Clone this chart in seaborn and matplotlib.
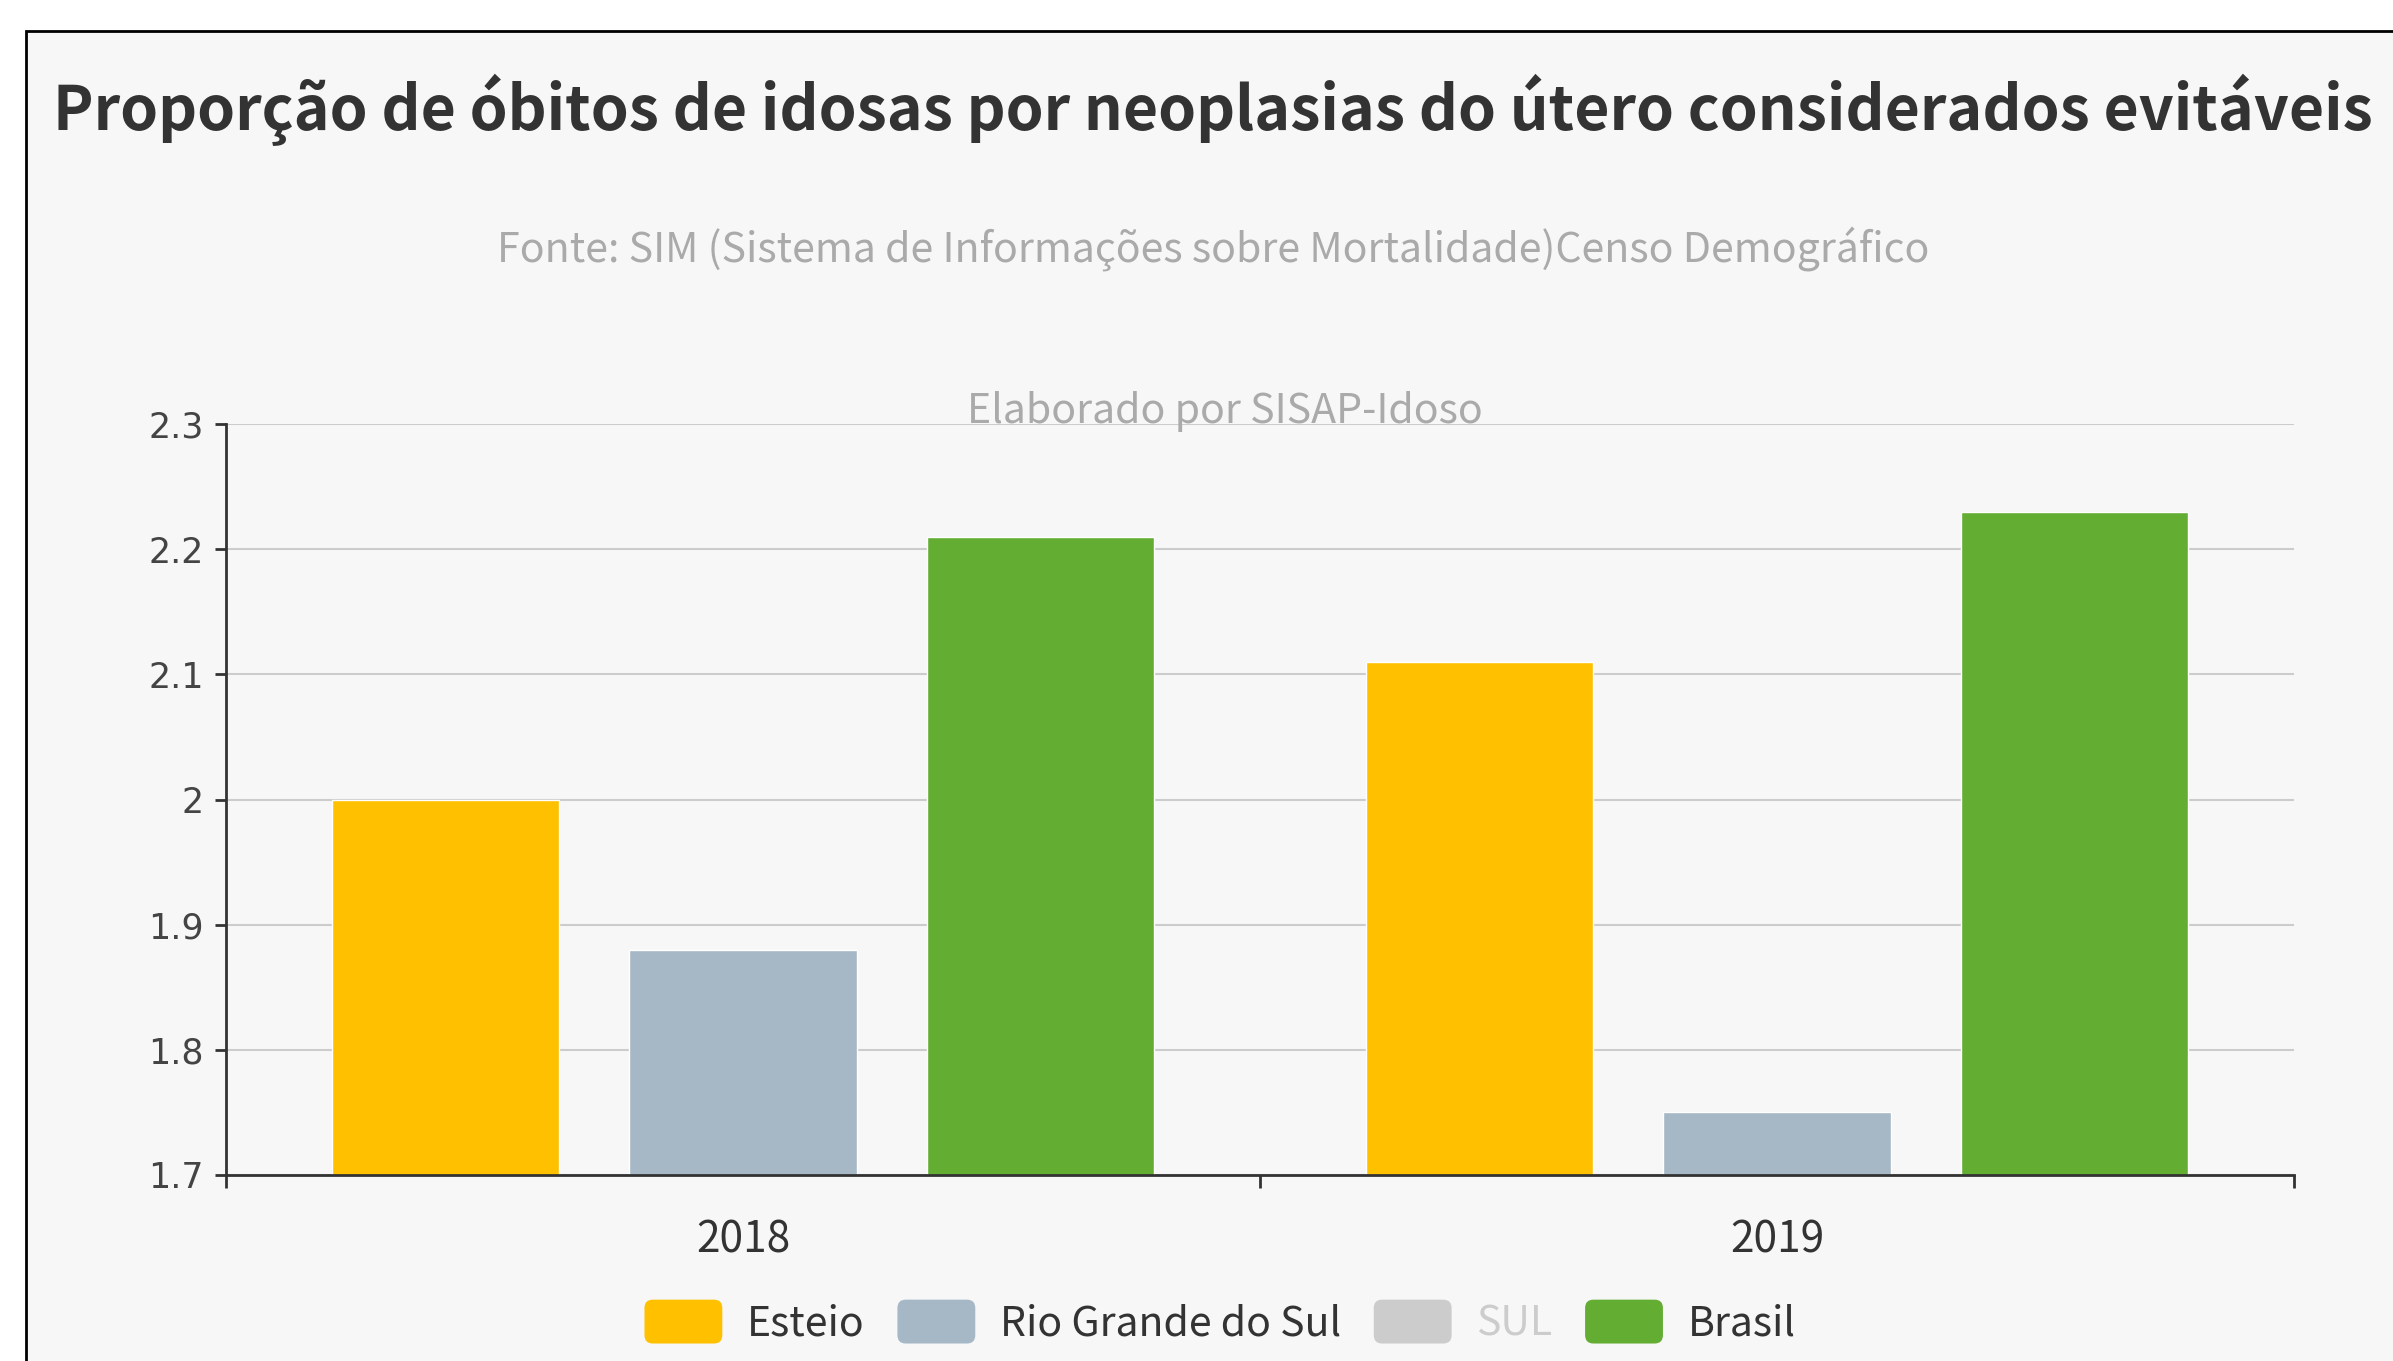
import numpy as np
import pandas as pd
import matplotlib
matplotlib.use("Agg")
import matplotlib.pyplot as plt
import seaborn as sns
from matplotlib.patches import Rectangle, Patch, FancyBboxPatch
from matplotlib.legend_handler import HandlerPatch


# dados
anos = ["2018", "2019"]
esteio = [2.00, 2.11]
rio_grande_do_sul = [1.88, 1.75]
brasil = [2.21, 2.23]

series = ["Esteio", "Rio Grande do Sul", "SUL", "Brasil"]
series_visiveis = ["Esteio", "Rio Grande do Sul", "Brasil"]
cores = {
    "Esteio": "#FFC000",
    "Rio Grande do Sul": "#A6B7C6",
    "SUL": "#CCCCCC",
    "Brasil": "#63AD33",
}
y_ticks = [1.7, 1.8, 1.9, 2.0, 2.1, 2.2, 2.3]
y_labels = ["1.7", "1.8", "1.9", "2", "2.1", "2.2", "2.3"]

titulo = "Proporção de óbitos de idosas por neoplasias do útero considerados evitáveis"
fonte = "Fonte: SIM (Sistema de Informações sobre Mortalidade)Censo Demográfico"
elaborado = "Elaborado por SISAP-Idoso"

data = pd.DataFrame({
    "ano": anos * 3,
    "local": ["Esteio"] * 2 + ["Rio Grande do Sul"] * 2 + ["Brasil"] * 2,
    "valor": esteio + rio_grande_do_sul + brasil,
})


sns.set_theme(style="white")
plt.rcParams["font.family"] = ["Noto Sans CJK SC", "DejaVu Sans"]

W, H = 2393, 1361
fig = plt.figure(figsize=(W / 100, H / 100), dpi=100, facecolor="white")

# moldura do gráfico (cortada à direita e embaixo)
frame = Rectangle((26 / W, -0.1), 1.2, 1 - 31 / H + 0.1, transform=fig.transFigure,
                  facecolor="#f7f7f7", edgecolor="black", linewidth=2, zorder=-10)
fig.patches.append(frame)

ax = fig.add_axes([226 / W, 1 - 1175 / H, (2294 - 226) / W, (1175 - 424) / H])
ax.set_facecolor("none")

sns.barplot(
    data=data, x="ano", y="valor", hue="local",
    hue_order=series_visiveis, palette=cores,
    width=0.863, gap=0.236, saturation=1,
    legend=False, ax=ax,
)

ax.set_xlim(-0.5, 1.5)
ax.set_ylim(1.7, 2.3)
ax.set_yticks(y_ticks)
ax.set_yticklabels(y_labels, family="DejaVu Sans")
ax.set_xlabel("")
ax.set_ylabel("")

ax.grid(axis="y", color="#cccccc", linewidth=1.5)
ax.set_axisbelow(True)
for s in ["top", "right"]:
    ax.spines[s].set_visible(False)
for s in ["left", "bottom"]:
    ax.spines[s].set_color("#333333")
    ax.spines[s].set_linewidth(2)

ax.tick_params(axis="y", direction="out", length=8, width=2, color="#333333",
               labelsize=25, labelcolor="#444444", pad=8, left=True)
ax.tick_params(axis="x", which="major", length=0, labelsize=30.5,
               labelcolor="#333333", pad=31)
ax.set_xticks([-0.5, 0.5, 1.5], minor=True)
ax.tick_params(axis="x", which="minor", direction="out", length=9, width=2,
               color="#333333", bottom=True)

fig.text(53 / W, 1 - 110 / H, titulo, fontsize=43.8, fontweight="bold",
         color="#333333", ha="left", va="center")
fig.text(1213 / W, 1 - 249 / H, fonte, fontsize=29.6, color="#aaaaaa",
         ha="center", va="center")
fig.text(1225 / W, 1 - 412 / H, elaborado, fontsize=29.6, color="#aaaaaa",
         ha="center", va="center")


class RoundHandler(HandlerPatch):
    def create_artists(self, legend, orig_handle, xdescent, ydescent,
                       width, height, fontsize, trans):
        p = FancyBboxPatch((-xdescent, -ydescent), width, height,
                           boxstyle="round,pad=0,rounding_size=6",
                           facecolor=orig_handle.get_facecolor(),
                           edgecolor="none", transform=trans)
        return [p]


handles = [Patch(facecolor=cores[s], label=s) for s in series]
leg = fig.legend(
    handles=handles, loc="center", bbox_to_anchor=(1220 / W, 1 - 1322 / H),
    ncol=4, frameon=False, fontsize=29.5, handlelength=1.9, handleheight=1.27,
    handletextpad=0.6, columnspacing=0.8, borderpad=0,
    handler_map={Patch: RoundHandler()},
)
for t in leg.get_texts():
    t.set_color("#cccccc" if t.get_text() == "SUL" else "#333333")

fig.savefig("out.png", dpi=100, facecolor="white")
